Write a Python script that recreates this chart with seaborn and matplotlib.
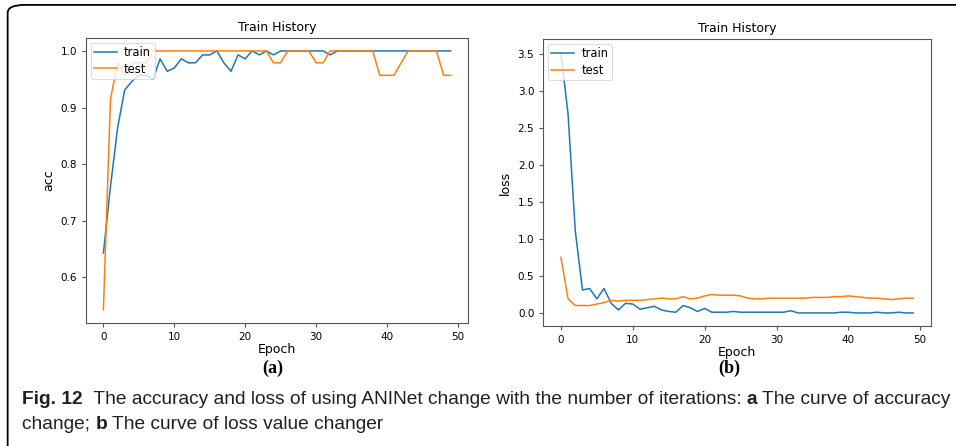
import numpy as np
import pandas as pd
import seaborn as sns
import matplotlib.pyplot as plt
from matplotlib.patches import FancyBboxPatch

# dane
epochs = list(range(50))
acc_train = [0.643, 0.761, 0.864, 0.931, 0.946, 0.957, 0.957, 0.950, 0.986, 0.964,
             0.970, 0.986, 0.979, 0.979, 0.993, 0.993, 1.000, 0.979, 0.964, 0.993,
             0.986, 1.000, 0.993, 1.000, 0.993, 1.000, 1.000, 1.000, 1.000, 1.000,
             1.000, 1.000, 0.993, 1.000, 1.000, 1.000, 1.000, 1.000, 1.000, 1.000,
             1.000, 1.000, 1.000, 1.000, 1.000, 1.000, 1.000, 1.000, 1.000, 1.000]
acc_test = [0.543, 0.915, 0.979, 0.957, 0.979, 0.979, 0.979, 1.000, 1.000, 1.000,
            1.000, 1.000, 1.000, 1.000, 1.000, 1.000, 1.000, 1.000, 1.000, 1.000,
            1.000, 1.000, 1.000, 1.000, 0.979, 0.979, 1.000, 1.000, 1.000, 1.000,
            0.979, 0.979, 1.000, 1.000, 1.000, 1.000, 1.000, 1.000, 1.000, 0.957,
            0.957, 0.957, 0.979, 1.000, 1.000, 1.000, 1.000, 1.000, 0.957, 0.957]
loss_train = [3.52, 2.68, 1.11, 0.31, 0.33, 0.19, 0.33, 0.13, 0.04, 0.13,
              0.12, 0.05, 0.07, 0.09, 0.04, 0.02, 0.01, 0.10, 0.07, 0.02,
              0.06, 0.01, 0.01, 0.01, 0.02, 0.01, 0.01, 0.01, 0.01, 0.01,
              0.01, 0.01, 0.03, 0.00, 0.00, 0.00, 0.00, 0.00, 0.00, 0.01,
              0.01, 0.00, 0.00, 0.00, 0.01, 0.00, 0.00, 0.01, 0.00, 0.00]
loss_test = [0.75, 0.19, 0.10, 0.10, 0.10, 0.12, 0.14, 0.17, 0.16, 0.17,
             0.17, 0.17, 0.18, 0.19, 0.20, 0.19, 0.19, 0.22, 0.19, 0.20,
             0.23, 0.25, 0.24, 0.24, 0.24, 0.23, 0.20, 0.19, 0.19, 0.20,
             0.20, 0.20, 0.20, 0.20, 0.20, 0.21, 0.21, 0.21, 0.22, 0.22,
             0.23, 0.22, 0.21, 0.20, 0.20, 0.19, 0.18, 0.19, 0.20, 0.20]

fig = plt.figure(figsize=(9.56, 4.46), dpi=100)

# ramka z zaokraglonym rogiem (wychodzi poza prawa i dolna krawedz)
box = FancyBboxPatch((0.008, -0.05), 1.05, 1.039, boxstyle="round,pad=0,rounding_size=0.018",
                     transform=fig.transFigure, fill=False, edgecolor='black', linewidth=1.3)
fig.patches.append(box)

ax1 = fig.add_axes([0.090, 0.2765, 0.3996, 0.6383])
ax2 = fig.add_axes([0.5683, 0.2691, 0.4052, 0.6428])

blue = '#1f77b4'
orange = '#ff7f0e'

def draw(ax, train, test, ylabel):
    sns.lineplot(x=epochs, y=train, ax=ax, color=blue, label='train', linewidth=1.1)
    sns.lineplot(x=epochs, y=test, ax=ax, color=orange, label='test', linewidth=1.1)
    ax.set_title('Train History', fontsize=9, pad=5)
    ax.set_xlabel('Epoch', fontsize=9, labelpad=1)
    ax.set_ylabel(ylabel, fontsize=9)
    ax.set_xticks([0, 10, 20, 30, 40, 50])
    ax.tick_params(labelsize=7.5, length=3, color='#555555')
    for s in ax.spines.values():
        s.set_color('#555555')
    leg = ax.legend(loc='upper left', fontsize=8.3, handlelength=2, borderpad=0.3,
                    labelspacing=0.3, handletextpad=0.6, borderaxespad=0.4)
    leg.get_frame().set_linewidth(0.6)

draw(ax1, acc_train, acc_test, 'acc')
ax1.set_yticks([0.6, 0.7, 0.8, 0.9, 1.0])
draw(ax2, loss_train, loss_test, 'loss')
ax2.set_yticks([0.0, 0.5, 1.0, 1.5, 2.0, 2.5, 3.0, 3.5])

for xc, tag in [(0.285, '(a)'), (0.763, '(b)')]:
    fig.text(xc, 0.173, tag, ha='center', va='center', fontsize=13,
             fontweight='bold', family='Liberation Serif')

# podpis pod rysunkiem (pogrubione fragmenty skladane kawalkami)
cap_font = ['Liberation Sans', 'DejaVu Sans']
renderer = fig.canvas.get_renderer()

line1 = [('Fig. 12', True),
         ('  The accuracy and loss of using ANINet change with the number of iterations: ', False),
         ('a', True), (' The curve of accuracy', False)]
line2 = [('change; ', False), ('b', True), (' The curve of loss value changer', False)]

def caption_line(parts, x0, y, size):
    x = x0
    texts = []
    for txt, bold in parts:
        t = fig.text(x, y, txt, fontsize=size, family=cap_font,
                     fontweight='bold' if bold else 'normal', va='baseline',
                     color='#231f20')
        bb = t.get_window_extent(renderer=renderer)
        x = x + bb.width / fig.bbox.width
        texts.append(t)
    return texts, x

# dopasowanie rozmiaru tak, by pierwsza linia konczyla sie przy prawej krawedzi
probe, x_end = caption_line(line1, 0.023, 0.092, 12.0)
for t in probe:
    t.remove()
cap_size = 12.0 * (0.996 - 0.023) / (x_end - 0.023)

caption_line(line1, 0.023, 0.095, cap_size)
caption_line(line2, 0.023, 0.037, cap_size)

fig.savefig('out.png', dpi=100)
